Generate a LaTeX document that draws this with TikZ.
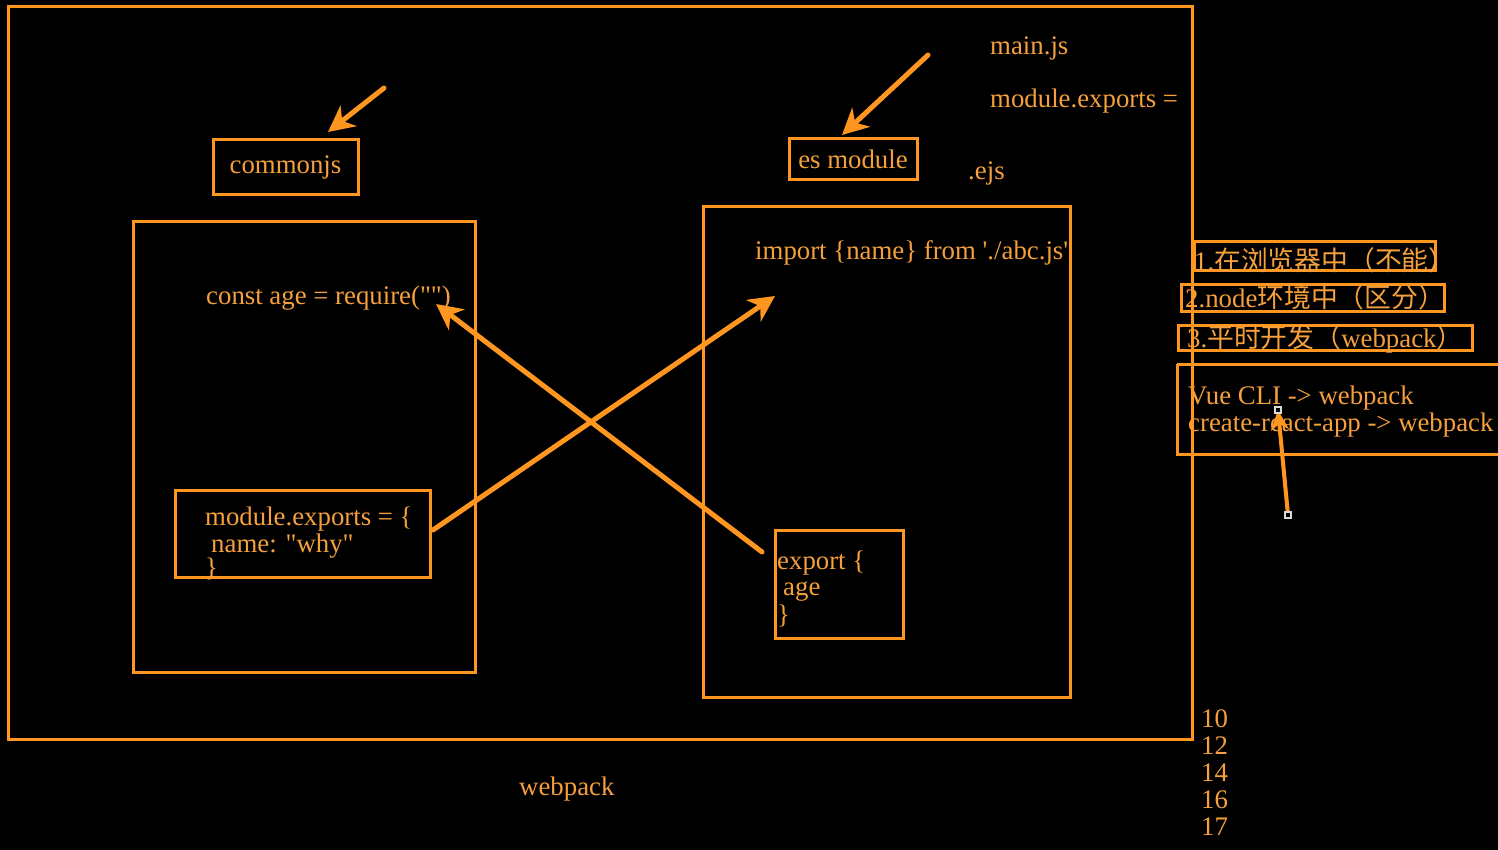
\documentclass[tikz,border=0pt]{standalone}
\usepackage{fontspec}
\setmainfont{Liberation Serif}[Ligatures=TeXOff]
\newfontfamily\cjk{Noto Sans CJK SC}
\usetikzlibrary{arrows.meta}
\definecolor{org}{RGB}{255,150,32}
\definecolor{orgtxt}{RGB}{245,160,60}
\tikzset{
  frame/.style={draw=org,line width=3pt},
  lbl/.style={text=orgtxt,font=\fontsize{26.8}{30}\selectfont,inner sep=0pt,anchor=base west},
  boxlbl/.style={draw=org,line width=3pt,text=orgtxt,font=\fontsize{26.8}{30}\selectfont,inner sep=0pt},
  bigarrow/.style={draw=org,line width=5pt,line cap=round,-{Stealth[length=26pt,width=26pt,inset=8pt]}},
  handle/.style={draw=white!85!black,fill=black,line width=1.2pt,minimum size=6pt,inner sep=0pt}
}
\begin{document}
\begin{tikzpicture}[x=1pt,y=-1pt]
\fill[black] (0,0) rectangle (1498,850);
\useasboundingbox (0,0) rectangle (1498,850);
% frames
\draw[frame] (8,7) rectangle (1192,739);
\draw[frame] (133,222) rectangle (475,672);
\draw[frame] (703,207) rectangle (1070,697);
\draw[frame] (175,490) rectangle (430,577);
\draw[frame] (775,530) rectangle (903,638);
% title boxes
\node[boxlbl,minimum width=145pt,minimum height=55pt] (cjs) at (285.5,167.5) {commonjs};
\node[boxlbl,minimum width=128pt,minimum height=41pt] (esm) at (853,159.5) {es module};
% texts
\node[lbl] (mainjs) at (990,55) {main.js};
\node[lbl] (mexp) at (990,108) {module.exports =};
\node[lbl] (ejs) at (968,180) {.ejs};
\node[lbl] (req) at (206,304) {const age = require("")};
\node[lbl] (imp) at (755,259) {import \{name\} from './abc.js'};
\node[lbl] (m1) at (205,525) {module.exports = \{};
\node[lbl] (m2) at (211,552) {name: "why"};
\node[lbl] (m3) at (205,576) {\}};
\node[lbl] (e1) at (777,569) {export \{};
\node[lbl] (e2) at (783,595) {age};
\node[lbl] (e3) at (777,623) {\}};
\node[lbl] (wp) at (519,795) {webpack};
\node[lbl] (n10) at (1201,727) {10};
\node[lbl] (n12) at (1201,754) {12};
\node[lbl] (n14) at (1201,781) {14};
\node[lbl] (n16) at (1201,808) {16};
\node[lbl] (n17) at (1201,835) {17};
% right side notes
\draw[frame] (1194,242) rectangle (1435,270);
\draw[frame] (1181,284) rectangle (1444,311);
\draw[frame] (1178,325) rectangle (1472,350);
\draw[frame] (1177,364) -- (1500,364);
\draw[frame] (1177,364) -- (1177,454) -- (1500,454);
\node[lbl] (c1) at (1194,270) {1.{\cjk 在浏览器中（不能）}};
\node[lbl] (c2) at (1185,307) {2.node{\cjk 环境中（区分）}};
\node[lbl] (c3) at (1187,347) {3.{\cjk 平时开发（}webpack{\cjk ）}};
\node[lbl] (v1) at (1188,404) {Vue CLI -> webpack};
\node[lbl] (v2) at (1188,431) {create-react-app -> webpack};
% re-draw big frame right edge on top of text
\draw[org,line width=3pt] (1192,7) -- (1192,739);
% arrow coordinates
\coordinate (a1s) at (384,88);
\coordinate (a1e) at (328,132);
\coordinate (a2s) at (928,55);
\coordinate (a2e) at (842,135);
\coordinate (x1s) at (433,530);
\coordinate (x1e) at (775,296);
\coordinate (x2s) at (762,552);
\coordinate (x2e) at (436,304);
\coordinate (hs) at (1288,515);
\coordinate (he) at (1278,410);
\draw[bigarrow] (a1s) -- (a1e);
\draw[bigarrow] (a2s) -- (a2e);
\draw[bigarrow] (x1s) -- (x1e);
\draw[bigarrow] (x2s) -- (x2e);
\draw[draw=org,line width=4pt,line cap=round,-{Stealth[length=20pt,width=18pt,inset=6pt]}] (hs) -- (he);
\node[handle] (h1) at (he) {};
\node[handle] (h2) at (hs) {};
\end{tikzpicture}
\end{document}
